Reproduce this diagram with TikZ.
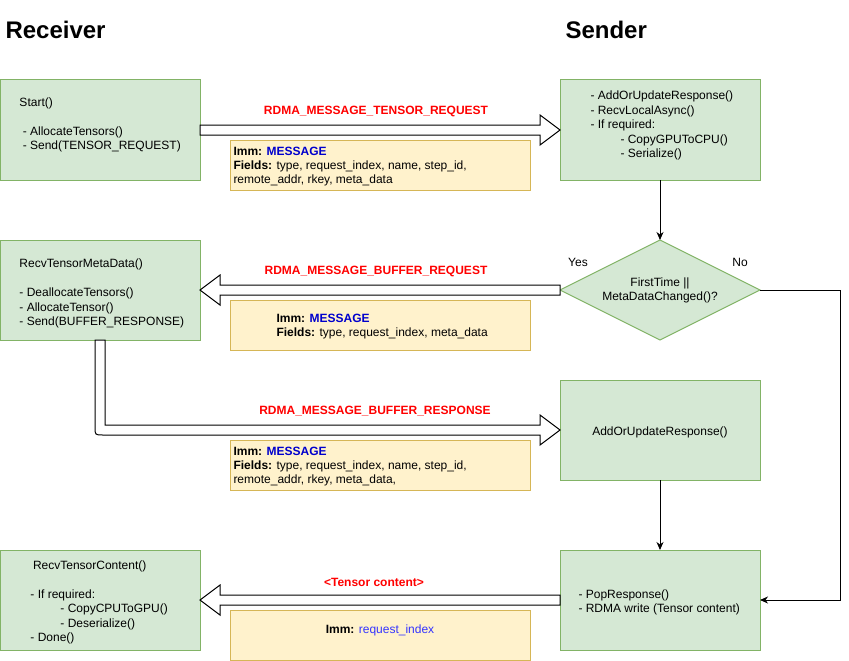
\documentclass[tikz,border=0pt]{standalone}
\usepackage{fontspec}
\setmainfont{Liberation Sans}
\usetikzlibrary{shapes.geometric,arrows.meta,calc}
\definecolor{gfill}{HTML}{D5E8D4}
\definecolor{gline}{HTML}{82B366}
\definecolor{yfill}{HTML}{FFF2CC}
\definecolor{yline}{HTML}{D6B656}
\definecolor{msgblue}{HTML}{0000CC}
\definecolor{idxblue}{HTML}{3333FF}
\definecolor{lblred}{HTML}{FF0000}

\begin{document}
\begin{tikzpicture}[x=1pt,y=-1pt,line width=1pt,
  greenbox/.style={draw=gline,fill=gfill,minimum width=200,minimum height=100,inner sep=0,outer sep=0},
  notebox/.style={draw=yline,fill=yfill,minimum width=300,minimum height=50,inner sep=0,outer sep=0},
  body/.style={font=\fontsize{12}{14.4}\selectfont,align=left,inner sep=0,anchor=west},
  ctext/.style={font=\fontsize{12}{14.4}\selectfont,align=center,inner sep=0},
  msglabel/.style={font=\fontsize{12}{14.4}\selectfont\bfseries,text=lblred,inner sep=0},
  header/.style={font=\fontsize{24}{28}\selectfont\bfseries,inner sep=0,anchor=west},
  flex/.style={draw=black,fill=white,line width=1pt,line join=miter},
  conn/.style={draw=black,line width=1pt,-{Stealth[length=8pt,width=7pt,inset=2.5pt]}},
]
\useasboundingbox (0,0) rectangle (849,661);

% column headers
\node[header] (recv) at (5,30) {Receiver};
\node[header] (send) at (565,30) {Sender};

% receiver side
\node[greenbox] (r1) at (100,130) {};
\node[greenbox] (r2) at (100,290) {};
\node[greenbox] (r5) at (100,600) {};

% sender side
\node[greenbox] (s1) at (660,130) {};
\node[diamond,draw=gline,fill=gfill,minimum width=200,minimum height=100,
      inner sep=0,outer sep=0,aspect=2] (d) at (660,290) {};
\node[greenbox] (s3) at (660,430) {};
\node[greenbox] (s4) at (660,600) {};

% box texts
\node[body] (r1t) at (19,125) {Start()\\[14.4pt]\hspace*{3.3pt}- AllocateTensors()\\\hspace*{3.3pt}- Send(TENSOR\_REQUEST)};
\node[body] (r2t) at (19,293.5) {RecvTensorMetaData()\\[14.4pt]- DeallocateTensors()\\- AllocateTensor()\\- Send(BUFFER\_RESPONSE)};
\node[body] (r5t) at (30,602.5) {\hspace*{2.5pt}RecvTensorContent()\\[14.4pt]- If required:\\\hspace*{30pt}- CopyCPUToGPU()\\\hspace*{30pt}- Deserialize()\\- Done()};
\node[body] (s1t) at (590,125.5) {- AddOrUpdateResponse()\\- RecvLocalAsync()\\- If required:\\\hspace*{30pt}- CopyGPUToCPU()\\\hspace*{30pt}- Serialize()};
\node[ctext] (dt) at (660,290.5) {FirstTime ||\\MetaDataChanged()?};
\node[ctext] (s3t) at (660,432) {AddOrUpdateResponse()};
\node[body] (s4t) at (578,602.5) {- PopResponse()\\- RDMA write (Tensor content)};

% decision branch labels
\node[ctext] (yes) at (578,262) {Yes};
\node[ctext] (no) at (740,262) {No};

% message notes
\node[notebox] (n1) at (380,165) {};
\node[notebox] (n2) at (380,325) {};
\node[notebox] (n3) at (380,465) {};
\node[notebox] (n4) at (380,635) {};
\node[body] (n1t) at (233,166.5) {\textbf{Imm:} \textcolor{msgblue}{\textbf{MESSAGE}}\\\textbf{Fields:} type, request\_index, name, step\_id,\\remote\_addr, rkey, meta\_data};
\node[body] (n2t) at (276,326.5) {\textbf{Imm:} \textcolor{msgblue}{\textbf{MESSAGE}}\\\textbf{Fields:} type, request\_index, meta\_data};
\node[body] (n3t) at (233,466.5) {\textbf{Imm:} \textcolor{msgblue}{\textbf{MESSAGE}}\\\textbf{Fields:} type, request\_index, name, step\_id,\\remote\_addr, rkey, meta\_data,};
\node[ctext] (n4t) at (380,630) {\textbf{Imm:} \textcolor{idxblue}{request\_index}};

% message names
\node[msglabel] (l1) at (376,111.5) {RDMA\_MESSAGE\_TENSOR\_REQUEST};
\node[msglabel] (l2) at (376,271.5) {RDMA\_MESSAGE\_BUFFER\_REQUEST};
\node[msglabel] (l3) at (375,411.5) {RDMA\_MESSAGE\_BUFFER\_RESPONSE};
\node[msglabel] (l4) at (374,582) {<Tensor content>};

% wide message arrows
\draw[flex] ($(r1.east)+(0,-5)$) -- ($(s1.west)+(-20,-5)$) -- ($(s1.west)+(-20,-15)$)
  -- (s1.west) -- ($(s1.west)+(-20,15)$) -- ($(s1.west)+(-20,5)$) -- ($(r1.east)+(0,5)$) -- cycle;
\draw[flex] ($(d.west)+(0,-5)$) -- ($(r2.east)+(20,-5)$) -- ($(r2.east)+(20,-15)$)
  -- (r2.east) -- ($(r2.east)+(20,15)$) -- ($(r2.east)+(20,5)$) -- ($(d.west)+(0,5)$) -- cycle;
\draw[flex] ($(s4.west)+(0,-5)$) -- ($(r5.east)+(20,-5)$) -- ($(r5.east)+(20,-15)$)
  -- (r5.east) -- ($(r5.east)+(20,15)$) -- ($(r5.east)+(20,5)$) -- ($(s4.west)+(0,5)$) -- cycle;
\draw[flex] ($(r2.south)+(-5,0)$) -- ($(r2.south |- s3.west)+(-5,-3)$)
  .. controls ($(r2.south |- s3.west)+(-5,5)$) .. ($(r2.south |- s3.west)+(3,5)$)
  -- ($(s3.west)+(-20,5)$) -- ($(s3.west)+(-20,15)$) -- (s3.west)
  -- ($(s3.west)+(-20,-15)$) -- ($(s3.west)+(-20,-5)$)
  -- ($(r2.south |- s3.west)+(5,-5)$) -- ($(r2.south)+(5,0)$) -- cycle;

% control flow on the sender side
\coordinate (turn) at (840,290);
\draw[conn] (s1.south) -- (d.north);
\draw[conn] (d.east) -- (turn) |- (s4.east);
\draw[conn] (s3.south) -- (s4.north);
\end{tikzpicture}
\end{document}
